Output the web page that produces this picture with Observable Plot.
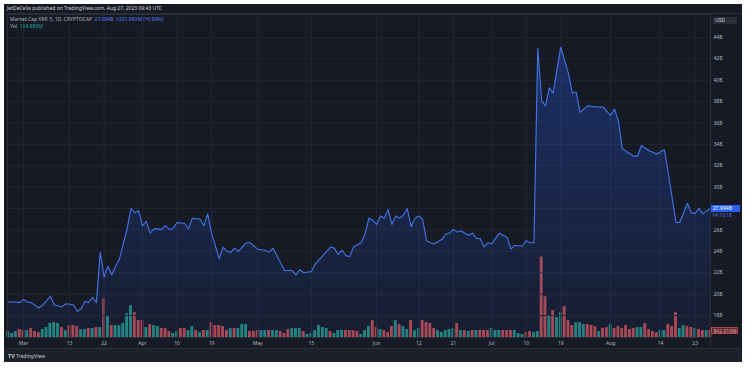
<!DOCTYPE html>
<html>
<head>
<meta charset="utf-8">
<script src="https://cdn.jsdelivr.net/npm/d3@7"></script>
<script src="https://cdn.jsdelivr.net/npm/@observablehq/plot@0.6"></script>
<style>
  body { margin: 0; background: #ffffff; }
  #wrap { position: relative; width: 747px; height: 368px; overflow: hidden; background: #ffffff; font-family: "Noto Sans", sans-serif; }
  #panel { position: absolute; left: 4px; top: 4px; width: 738px; height: 358px; background: #161a25; }
  #bottom { position: absolute; left: 4px; top: 348px; width: 738px; height: 14px; background: #1c202b; }
  .abs { position: absolute; white-space: nowrap; }
  svg.layer { position: absolute; left: 0; top: 0; }
  .t5 { font-size: 5px; line-height: 6px; }
</style>
</head>
<body>
<div id="wrap">
  <div id="panel"></div>
  <div id="bottom"></div>
</div>
<script>
// ---------- data ----------
const priceDates = [
  "2023-02-25","2023-02-27","2023-02-28","2023-03-01","2023-03-02","2023-03-03","2023-03-05","2023-03-06","2023-03-08","2023-03-09",
  "2023-03-11","2023-03-12","2023-03-14","2023-03-15","2023-03-16","2023-03-17","2023-03-18","2023-03-19","2023-03-20","2023-03-21",
  "2023-03-22","2023-03-23","2023-03-24","2023-03-25","2023-03-26","2023-03-28","2023-03-29","2023-03-30","2023-03-31","2023-04-01",
  "2023-04-02","2023-04-03","2023-04-04","2023-04-05","2023-04-06","2023-04-07","2023-04-08","2023-04-09","2023-04-10","2023-04-12",
  "2023-04-13","2023-04-14","2023-04-16","2023-04-17","2023-04-18","2023-04-19","2023-04-21","2023-04-22","2023-04-23","2023-04-24",
  "2023-04-25","2023-04-26","2023-04-28","2023-04-29","2023-05-01","2023-05-03","2023-05-04","2023-05-05","2023-05-06","2023-05-08",
  "2023-05-10","2023-05-11","2023-05-12","2023-05-13","2023-05-15","2023-05-16","2023-05-18","2023-05-20","2023-05-21","2023-05-22",
  "2023-05-23","2023-05-24","2023-05-25","2023-05-26","2023-05-28","2023-05-29","2023-05-30","2023-05-31","2023-06-01","2023-06-02",
  "2023-06-03","2023-06-04","2023-06-05","2023-06-06","2023-06-07","2023-06-08","2023-06-09","2023-06-10","2023-06-11","2023-06-12",
  "2023-06-13","2023-06-14","2023-06-15","2023-06-16","2023-06-18","2023-06-19","2023-06-20","2023-06-21","2023-06-22","2023-06-23",
  "2023-06-25","2023-06-26","2023-06-27","2023-06-28","2023-06-29","2023-06-30","2023-07-01","2023-07-03","2023-07-05","2023-07-06",
  "2023-07-07","2023-07-09","2023-07-10","2023-07-11","2023-07-12","2023-07-13","2023-07-14","2023-07-15","2023-07-16","2023-07-17",
  "2023-07-19","2023-07-21","2023-07-22","2023-07-23","2023-07-24","2023-07-26","2023-07-28","2023-07-30","2023-08-01","2023-08-02",
  "2023-08-03","2023-08-04","2023-08-07","2023-08-08","2023-08-09","2023-08-11","2023-08-13","2023-08-15","2023-08-16","2023-08-18",
  "2023-08-19","2023-08-21","2023-08-22","2023-08-23","2023-08-24","2023-08-25","2023-08-26","2023-08-27"
];
const priceValues = [ // market cap, billions USD
  19.26,19.26,19.2,19.5,19.26,19.2,18.7,18.95,19.8,19.0,
  18.8,19.1,19.0,18.4,18.6,19.3,19.2,19.7,19.2,23.9,
  21.6,22.6,21.8,22.6,23.3,26.1,28.0,27.6,27.8,26.4,
  26.8,25.7,26.1,26.1,26.05,26.4,26.05,26.15,26.7,26.6,
  26.1,27.1,27.0,26.4,27.5,25.7,23.3,24.4,24.0,23.9,
  24.3,24.0,24.8,24.8,24.2,24.1,23.9,24.3,23.6,22.2,
  22.2,21.8,22.3,22.0,22.1,22.8,23.6,24.4,24.3,23.7,
  24.1,23.6,23.5,24.4,24.8,25.6,27.1,26.9,26.5,27.3,
  27.1,27.9,26.5,27.3,27.1,27.4,28.0,26.3,27.1,27.3,
  27.0,25.0,24.8,24.7,25.1,25.6,25.7,26.05,25.8,25.9,
  25.5,25.7,25.2,25.2,24.4,24.8,24.7,25.7,25.3,24.2,
  24.55,24.5,25.0,24.8,24.8,43.0,38.1,37.6,39.3,38.8,
  43.1,40.6,38.8,38.9,37.0,37.6,37.5,37.5,36.7,37.3,
  36.2,33.6,32.9,32.9,33.9,33.4,33.1,33.5,31.3,26.7,
  26.7,28.5,27.6,27.55,28.0,27.5,27.8,27.994
];

const volStart = "2023-02-25"; // one bar per day from this date
const volValues = [ // millions USD
  720,480,720,960,840,840,1080,720,600,960,
  1200,1680,1800,1680,1200,840,1440,1440,1320,960,
  960,1080,1080,1200,1200,4680,2640,1440,1440,1440,
  1680,2880,3840,3000,2040,2040,1200,1560,1440,1320,
  1080,1080,720,480,720,1080,1080,840,1320,840,
  600,840,840,1800,1440,1440,1320,840,1080,1080,
  1080,1560,1560,720,720,840,840,840,840,840,
  840,720,480,960,1080,1080,1080,720,360,480,
  840,1440,1200,1080,720,480,840,840,840,840,
  840,720,360,840,1320,2040,1200,960,840,600,
  1320,2040,1560,1320,960,2040,840,1080,2040,1800,
  1680,1080,840,600,840,960,1080,1680,840,840,
  720,840,840,840,840,840,1080,840,840,840,
  840,840,840,480,360,600,720,600,720,9720,
  4920,2640,3240,2400,3000,3720,2040,1440,1800,1800,
  1560,1560,1440,1320,720,1080,1200,1560,1080,1320,
  1080,1440,960,1080,1200,1200,1680,960,720,600,
  840,840,1560,1320,3000,1080,1440,1320,1200,1080,
  960,840,840,843
];
const volUp = [
  1,1,1,0,0,1,0,0,0,1,
  1,1,1,1,0,1,0,0,0,1,
  1,0,1,0,1,0,1,0,1,1,
  1,1,1,0,0,0,1,0,1,1,
  0,0,0,1,1,0,0,1,1,0,
  1,0,1,0,0,0,0,0,1,0,
  1,1,1,0,0,0,1,1,0,1,
  1,0,0,0,1,1,1,0,1,1,
  1,1,1,1,0,1,1,1,0,0,
  0,0,1,1,1,0,0,1,0,0,
  0,1,0,1,1,0,1,1,0,0,
  0,0,1,1,1,1,1,0,1,0,
  1,0,1,0,0,0,1,1,1,0,
  0,0,1,1,1,0,0,1,1,0,
  0,1,0,1,1,0,0,0,1,1,
  1,0,0,0,1,0,0,1,0,0,
  0,0,0,0,1,1,0,0,0,0,
  1,1,0,0,0,1,1,0,0,1,
  0,0,1,0
];

const xTickDates = ["2023-03-01","2023-03-13","2023-03-22","2023-04-01","2023-04-10","2023-04-19","2023-05-01","2023-05-15","2023-06-01","2023-06-12","2023-06-21","2023-07-01","2023-07-10","2023-07-19","2023-08-01","2023-08-14","2023-08-23"];
const xTickLabels = ["Mar","13","22","Apr","10","19","May","15","Jun","12","21","Jul","10","19","Aug","14","23"];
const yTicks = [18,20,22,24,26,28,30,32,34,36,38,40,42,44];
const yLabelTicks = [18,20,22,24,26,30,32,34,36,38,40,42,44]; // 28B is hidden behind the last-price tag

const lastPrice = 27.994;
const lastPriceLabel = "27.994B";
const lastVolume = 842.91;
const lastVolumeLabel = "842.910M";

// ---------- build ----------
const utc = s => new Date(s + "T00:00:00Z");
const price = priceDates.map((d, i) => ({date: utc(d), value: priceValues[i]}));
const vol = volValues.map((v, i) => ({date: d3.utcDay.offset(utc(volStart), i), v, up: volUp[i]}));
const ticks = xTickDates.map(utc);
const labelMap = new Map(ticks.map((d, i) => [+d, xTickLabels[i]]));

const W = 747, H = 368;
const M = {marginLeft: 7, marginRight: 37, marginTop: 14, marginBottom: 31};
const xDomain = [new Date("2023-02-24T20:00:00Z"), new Date("2023-08-27T00:00:00Z")];
const yDomain = [15.94, 46.15];
const font = {background: "transparent", fontFamily: "Noto Sans, sans-serif", fontSize: "5px", color: "#b2b5be"};

const wrap = document.getElementById("wrap");

const volPlot = Plot.plot({
  width: W, height: H, ...M, style: font,
  x: {type: "utc", domain: xDomain, axis: null},
  y: {domain: [0, 39000], axis: null},
  color: {type: "identity"},
  marks: [
    Plot.rectY(vol, {
      x1: d => d3.utcHour.offset(d.date, -9),
      x2: d => d3.utcHour.offset(d.date, 9),
      y: "v",
      fill: d => d.up ? "#23857b" : "#b0474c"
    })
  ]
});
volPlot.classList.add("layer");
wrap.appendChild(volPlot);

const pricePlot = Plot.plot({
  width: W, height: H, ...M, style: font,
  x: {type: "utc", domain: xDomain, label: null},
  y: {domain: yDomain, label: null},
  marks: [
    Plot.gridY(yTicks, {stroke: "#222633", strokeOpacity: 1}),
    Plot.gridX(ticks, {stroke: "#222633", strokeOpacity: 1}),
    Plot.areaY(price, {x: "date", y1: yDomain[0], y2: "value", fill: "url(#pgrad)"}),
    Plot.lineY(price, {x: "date", y: "value", stroke: "#4274e8", strokeWidth: 1.1}),
    Plot.frame({stroke: "#2a2e39"}),
    Plot.axisY(yLabelTicks, {anchor: "right", label: null, tickSize: 0, tickPadding: 3, tickFormat: d => d + "B", fill: "#b2b5be"}),
    Plot.axisX(ticks, {anchor: "bottom", label: null, tickSize: 0, tickPadding: 4, tickFormat: d => labelMap.get(+d), fill: "#b2b5be"})
  ]
});
pricePlot.classList.add("layer");
const defs = d3.select(pricePlot).insert("defs", ":first-child");
const grad = defs.append("linearGradient").attr("id", "pgrad")
  .attr("gradientUnits", "userSpaceOnUse").attr("x1", 0).attr("x2", 0).attr("y1", 40).attr("y2", 337);
grad.append("stop").attr("offset", 0).attr("stop-color", "#2962ff").attr("stop-opacity", 0.30);
grad.append("stop").attr("offset", 1).attr("stop-color", "#2962ff").attr("stop-opacity", 0.05);
wrap.appendChild(pricePlot);

// ---------- overlays (text) ----------
function addDiv(html, css) {
  const el = document.createElement("div");
  el.className = "abs t5";
  el.innerHTML = html;
  Object.assign(el.style, css);
  wrap.appendChild(el);
  return el;
}
// frame lines of the right axis / time axis area
addDiv("", {left: "710px", top: "13px", width: "1px", height: "335px", background: "#2a2e39"});
addDiv("", {left: "7px", top: "348px", width: "734px", height: "1px", background: "#2a2e39"});
addDiv("", {left: "7px", top: "13px", width: "734px", height: "1px", background: "#2a2e39"});

addDiv("JetDeCelia published on TradingView.com, Aug 27, 2023 09:43 UTC", {left: "7px", top: "5px", color: "#d1d4dc"});
addDiv('Market Cap XRP, 5, 1D, CRYPTOCAP&nbsp;&nbsp;<span style="color:#4f7df0">27.994B&nbsp;&nbsp;+231.983M (+0.84%)</span>', {left: "10px", top: "16px", color: "#b2b5be"});
addDiv('Vol&nbsp;&nbsp;<span style="color:#26a69a">104.886M</span>', {left: "10px", top: "23px", color: "#b2b5be"});
addDiv("USD", {left: "713px", top: "17px", width: "24px", height: "7px", lineHeight: "7px", background: "#2a2e39", color: "#d1d4dc", paddingLeft: "2px", boxSizing: "border-box"});

const ty = pricePlot.scale("y").apply(lastPrice);
addDiv(lastPriceLabel, {left: "711px", top: (ty - 3.5) + "px", width: "29px", height: "7px", lineHeight: "7px", background: "#2962ff", color: "#ffffff", paddingLeft: "2px", boxSizing: "border-box"});
addDiv("14:16:18", {left: "712px", top: (ty + 3.8) + "px", color: "#5d7fd8"});

const vy = volPlot.scale("y").apply(lastVolume);
addDiv(lastVolumeLabel, {left: "711px", top: (vy - 3.5) + "px", width: "27px", height: "7px", lineHeight: "7px", background: "#5a2a30", border: "0.5px solid #b0474c", color: "#e8a0a0", paddingLeft: "1.5px", boxSizing: "border-box"});

addDiv('<b style="font-size:5.5px">TV</b> TradingView', {left: "8px", top: "353px", color: "#c8cbd3"});
</script>
</body>
</html>
